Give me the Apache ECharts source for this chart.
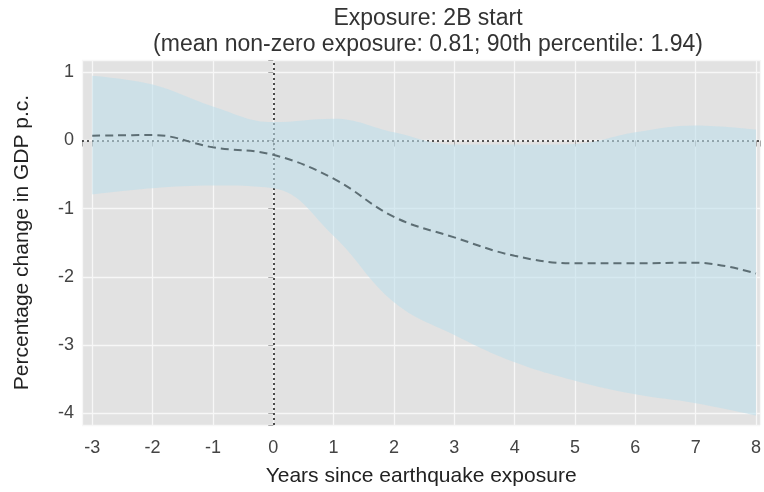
<!DOCTYPE html>
<html>
<head>
<meta charset="utf-8">
<script src="https://cdn.jsdelivr.net/npm/echarts@6/dist/echarts.min.js"></script>
<style>html,body{margin:0;padding:0;background:#fff}#c{width:764px;height:492px}</style>
</head>
<body>
<div id="c"></div>
<script>
const years = [-3, -2, -1, 0, 1, 2, 3, 4, 5, 6, 7, 8];
const estimate = [0.07, 0.08, -0.1, -0.21, -0.56, -1.12, -1.42, -1.69, -1.8, -1.8, -1.79, -1.95];
const upper = [0.95, 0.82, 0.5, 0.27, 0.32, 0.12, -0.06, -0.06, -0.05, 0.12, 0.22, 0.16];
const lower = [-0.79, -0.7, -0.66, -0.7, -1.4, -2.37, -2.85, -3.25, -3.52, -3.72, -3.85, -4.03];
const titleText = 'Exposure: 2B start\n(mean non-zero exposure: 0.81; 90th percentile: 1.94)';
const xTitle = 'Years since earthquake exposure';
const yTitle = 'Percentage change in GDP p.c.';

const font = 'Liberation Sans, Arial, Helvetica, sans-serif';
const chart = echarts.init(document.getElementById('c'), null, {renderer: 'canvas'});
const isInt = v => Math.abs(v - Math.round(v)) < 1e-6;

// data rows are [value, year] so that the stacked dimension is the y value
const lowerRows = years.map((x, i) => [lower[i], x]);
const widthRows = years.map((x, i) => [upper[i] - lower[i], x]);

chart.setOption({
  animation: false,
  backgroundColor: '#ffffff',
  title: {
    text: titleText,
    left: 423, top: 1, textAlign: 'center',
    textStyle: {fontFamily: font, fontSize: 23, fontWeight: 'normal', color: '#333', lineHeight: 26}
  },
  grid: {left: 82, right: 0, top: 60, bottom: 67, show: true, backgroundColor: '#e2e2e2', borderWidth: 0},
  xAxis: {
    type: 'value', min: -3.17, max: 8.07, minInterval: 1, maxInterval: 1,
    name: xTitle, nameLocation: 'middle', nameGap: 41,
    nameTextStyle: {fontFamily: font, fontSize: 21, color: '#222'},
    axisLine: {show: false},
    axisTick: {show: true, length: 6, lineStyle: {color: '#aaa'}},
    axisLabel: {fontFamily: font, fontSize: 18, color: '#444', margin: 14,
      formatter: v => isInt(v) ? String(Math.round(v)) : ''},
    splitLine: {show: true, lineStyle: {color: '#f7f7f7', width: 1.3}}
  },
  yAxis: {
    type: 'value', min: -4.17, max: 1.18, minInterval: 1, maxInterval: 1,
    name: yTitle, nameLocation: 'middle', nameGap: 49, nameRotate: 90,
    nameTextStyle: {fontFamily: font, fontSize: 21, color: '#222'},
    axisLine: {show: false},
    axisTick: {show: true, length: 5, lineStyle: {color: '#aaa'}},
    axisLabel: {fontFamily: font, fontSize: 18, color: '#444', margin: 8,
      formatter: v => isInt(v) ? String(Math.round(v)) : ''},
    splitLine: {show: true, lineStyle: {color: '#f7f7f7', width: 1.3}}
  },
  series: [
    {
      name: 'lower', type: 'line', stack: 'band', stackStrategy: 'all',
      data: lowerRows, encode: {x: 1, y: 0},
      symbol: 'none', smooth: 0.4,
      lineStyle: {opacity: 0}, z: 1, silent: true,
      markLine: {
        z: 1, silent: true, symbol: 'none', label: {show: false},
        lineStyle: {color: '#222', type: [2, 3], width: 1.6},
        data: [{xAxis: 0}, {yAxis: 0}]
      }
    },
    {
      name: 'band', type: 'line', stack: 'band', stackStrategy: 'all',
      data: widthRows, encode: {x: 1, y: 0},
      symbol: 'none', smooth: 0.4,
      lineStyle: {opacity: 0},
      areaStyle: {color: 'rgba(190,222,235,0.84)'}, z: 2, silent: true
    },
    {
      name: 'estimate', type: 'line',
      data: years.map((x, i) => [x, estimate[i]]),
      symbol: 'none', smooth: 0.4,
      lineStyle: {color: '#5d6e74', width: 2, type: [8, 5]}, z: 3
    }
  ]
});
</script>
</body>
</html>
